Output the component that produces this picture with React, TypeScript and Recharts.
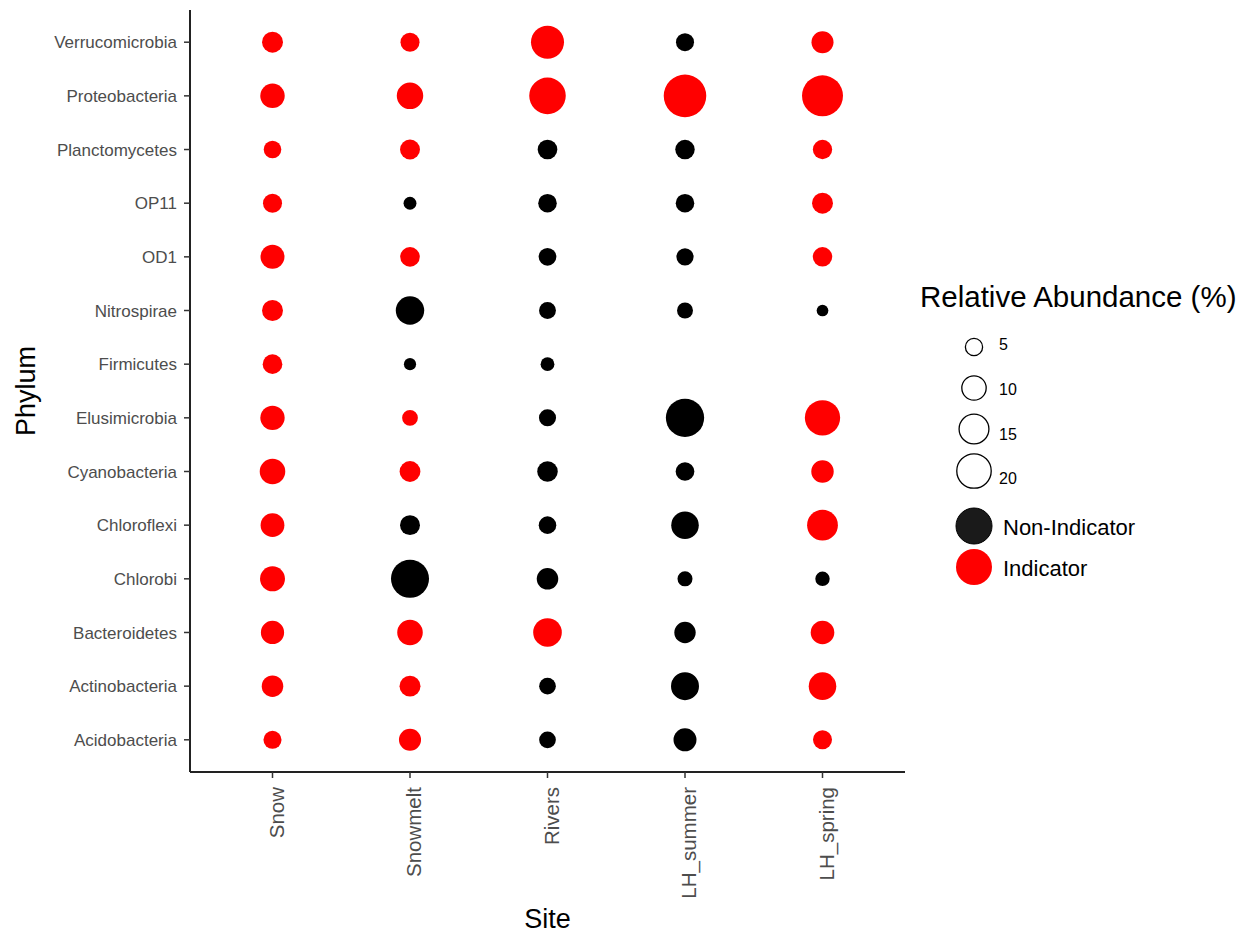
import React from "react";
import { ScatterChart, Scatter, XAxis, YAxis, ZAxis } from "recharts";

const sites = ["Snow", "Snowmelt", "Rivers", "LH_summer", "LH_spring"];

// bottom to top, as on the y axis
const phyla = [
  "Acidobacteria",
  "Actinobacteria",
  "Bacteroidetes",
  "Chlorobi",
  "Chloroflexi",
  "Cyanobacteria",
  "Elusimicrobia",
  "Firmicutes",
  "Nitrospirae",
  "OD1",
  "OP11",
  "Planctomycetes",
  "Proteobacteria",
  "Verrucomicrobia",
];

// relative abundance (%) per site, in phyla order (null = not present)
const snow      = [5.5, 7.8, 9.1, 10.5, 9.5, 11.0, 10.0, 6.5, 7.4, 9.7, 6.1, 5.2, 10.1, 7.4];
const snowmelt  = [8.2, 7.4, 11.0, 24.4, 6.7, 7.3, 4.2, 2.5, 13.6, 6.5, 2.8, 6.7, 11.8, 6.1];
const rivers    = [4.7, 4.7, 13.8, 7.8, 5.2, 7.1, 4.9, 3.2, 4.8, 5.3, 5.8, 6.5, 22.5, 18.4];
const lhSummer  = [8.9, 13.2, 7.7, 3.8, 12.8, 5.9, 24.7, null, 4.3, 5.0, 5.8, 6.4, 30.5, 5.5];
const lhSpring  = [6.1, 12.8, 9.4, 3.5, 16.0, 8.5, 21.0, null, 2.3, 6.4, 7.4, 6.3, 28.3, 8.2];

// 1 = indicator taxon at that site
const snowInd     = [1, 1, 1, 1, 1, 1, 1, 1, 1, 1, 1, 1, 1, 1];
const snowmeltInd = [1, 1, 1, 0, 0, 1, 1, 0, 0, 1, 0, 1, 1, 1];
const riversInd   = [0, 0, 1, 0, 0, 0, 0, 0, 0, 0, 0, 0, 1, 1];
const lhSummerInd = [0, 0, 0, 0, 0, 0, 0, 0, 0, 0, 0, 0, 1, 0];
const lhSpringInd = [1, 1, 1, 0, 1, 1, 1, 0, 0, 1, 1, 1, 1, 1];

const sizeBreaks = [5, 10, 15, 20];

const abundance = [snow, snowmelt, rivers, lhSummer, lhSpring];
const indicator = [snowInd, snowmeltInd, riversInd, lhSummerInd, lhSpringInd];

// bubble area in px² per 1% abundance
const AREA_PER_UNIT = 46.6;
const Z_MAX = 40;
const radiusFor = (v: number) => Math.sqrt((v * AREA_PER_UNIT) / Math.PI);

type Pt = { x: number; y: number; z: number };
const indPts: Pt[] = [];
const nonPts: Pt[] = [];
abundance.forEach((col, si) => {
  col.forEach((v, pi) => {
    if (v == null) return;
    const p = { x: si + 1, y: pi + 1, z: v };
    (indicator[si][pi] ? indPts : nonPts).push(p);
  });
});

const FONT = '"Liberation Sans", Arial, sans-serif';

function SiteTick({ x, y, payload }: any) {
  return (
    <text
      transform={`translate(${x + 11},${y}) rotate(-90)`}
      textAnchor="end"
      fontSize={20.5}
      fill="#4d4d4d"
    >
      {sites[payload.value - 1]}
    </text>
  );
}

export default function App() {
  return (
    <div style={{ position: "absolute", left: 0, top: 0, width: 1242, height: 935, background: "#fff", fontFamily: FONT }}>
      <ScatterChart width={1242} height={935} margin={{ top: 10, right: 337, bottom: 0, left: 0 }}>
        <XAxis
          type="number"
          dataKey="x"
          domain={[0.4, 5.6]}
          ticks={[1, 2, 3, 4, 5]}
          allowDataOverflow
          height={163}
          interval={0}
          tick={<SiteTick />}
          tickSize={6}
          tickMargin={9}
          axisLine={{ stroke: "#222", strokeWidth: 2 }}
          tickLine={{ stroke: "#333", strokeWidth: 1.5 }}
          label={{ value: "Site", position: "insideBottom", offset: 7, style: { fontSize: 27, fill: "#000" } }}
        />
        <YAxis
          type="number"
          dataKey="y"
          domain={[0.4, 14.6]}
          ticks={phyla.map((_, i) => i + 1)}
          allowDataOverflow
          width={190}
          interval={0}
          tickFormatter={(v) => phyla[v - 1]}
          tick={{ fontSize: 17, fill: "#4d4d4d" }}
          tickSize={6}
          tickMargin={7}
          axisLine={{ stroke: "#222", strokeWidth: 2 }}
          tickLine={{ stroke: "#333", strokeWidth: 1.5 }}
          label={{
            value: "Phylum",
            angle: -90,
            position: "insideLeft",
            offset: 25,
            style: { fontSize: 27, fill: "#000", textAnchor: "middle" },
          }}
        />
        <ZAxis type="number" dataKey="z" domain={[0, Z_MAX]} range={[0, Z_MAX * AREA_PER_UNIT]} />
        <Scatter name="Non-Indicator" data={nonPts} fill="#000000" isAnimationActive={false} />
        <Scatter name="Indicator" data={indPts} fill="#ff0000" isAnimationActive={false} />
      </ScatterChart>

      {/* Legend */}
      <svg width={1242} height={935} style={{ position: "absolute", left: 0, top: 0, pointerEvents: "none" }}>
        <text x={920} y={307} fontSize={29.5} fill="#000">Relative Abundance (%)</text>
        {sizeBreaks.map((v, i) => {
          const cy = [347, 388, 429, 471][i];
          const ty = [350, 395, 440, 484][i];
          return (
            <g key={v}>
              <circle cx={974} cy={cy} r={radiusFor(v)} fill="#fff" stroke="#000" strokeWidth={1.3} />
              <text x={999} y={ty} fontSize={16} fill="#000">{v}</text>
            </g>
          );
        })}
        {[
          { label: "Non-Indicator", color: "#1a1a1a", cy: 526 },
          { label: "Indicator", color: "#ff0000", cy: 567 },
        ].map(({ label, color, cy }) => (
          <g key={label}>
            <circle cx={974} cy={cy} r={18} fill={color} stroke={color === "#ff0000" ? "none" : "#000"} />
            <text x={1003} y={cy + 9} fontSize={22} fill="#000">{label}</text>
          </g>
        ))}
      </svg>
    </div>
  );
}
